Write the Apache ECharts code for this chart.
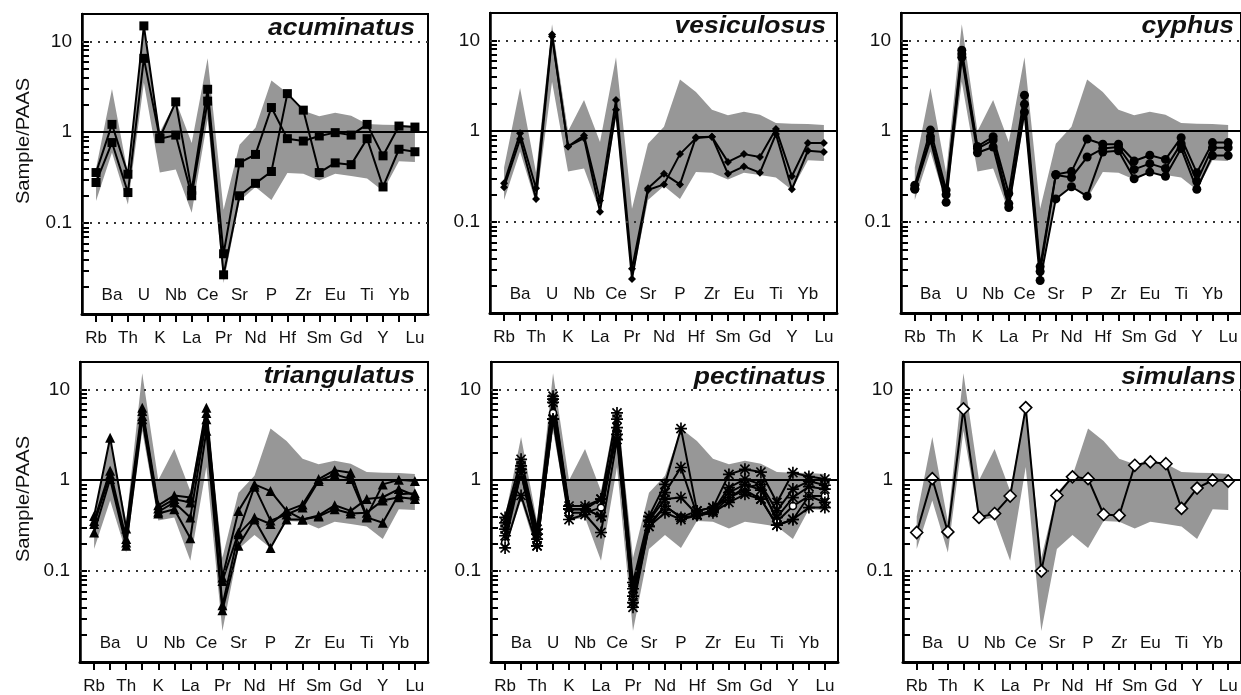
<!DOCTYPE html>
<html lang="en">
<head>
<meta charset="utf-8">
<title>Sample/PAAS</title>
<script src="https://cdn.jsdelivr.net/npm/echarts@6/dist/echarts.min.js"></script>
<style>
    html, body { margin: 0; padding: 0; background: #fff; }
    #main { width: 1241px; height: 695px; }
</style>
</head>
<body>
<div id="main"></div>
<script type="text/javascript">
    // element order along the x axis
    var elements = ['Rb', 'Ba', 'Th', 'U', 'K', 'Nb', 'La', 'Ce', 'Pr', 'Sr', 'Nd', 'P', 'Hf', 'Zr', 'Sm', 'Eu', 'Gd', 'Ti', 'Y', 'Yb', 'Lu'];

    // grey envelope (same in every panel)
    var bandHigh = [0.40, 3.0, 0.35, 15.0, 1.0, 2.2, 0.76, 6.5, 0.14, 0.73, 1.12, 3.7, 2.7, 1.72, 1.5, 1.64, 1.52, 1.23, 1.21, 1.2, 1.17];
    var bandLow = [0.175, 0.6, 0.16, 3.5, 0.36, 0.39, 0.13, 1.4, 0.022, 0.175, 0.25, 0.18, 0.355, 0.35, 0.295, 0.35, 0.33, 0.31, 0.225, 0.48, 0.47];

    var acuminatus = [
        [0.36, 1.22, 0.345, 14.8, 0.87, 2.16, 0.23, 2.97, 0.046, 0.46, 0.57, 1.87, 0.85, 0.80, 0.91, 0.99, 0.93, 1.22, 0.55, 1.17, 1.14],
        [0.28, 0.77, 0.217, 6.5, 0.85, 0.93, 0.20, 2.2, 0.027, 0.20, 0.274, 0.37, 2.66, 1.75, 0.36, 0.46, 0.44, 0.85, 0.25, 0.65, 0.61]
    ];
    var vesiculosus = [
        [0.268, 0.95, 0.236, 11.6, 0.68, 0.90, 0.173, 2.2, 0.0306, 0.236, 0.34, 0.26, 0.86, 0.87, 0.46, 0.56, 0.52, 1.06, 0.32, 0.74, 0.74],
        [0.242, 0.82, 0.18, 11.0, 0.68, 0.84, 0.13, 1.72, 0.0237, 0.226, 0.26, 0.56, 0.84, 0.87, 0.34, 0.41, 0.35, 0.93, 0.23, 0.61, 0.59]
    ];
    var cyphus = [
        [0.255, 1.03, 0.225, 7.8, 0.68, 0.87, 0.207, 2.49, 0.0324, 0.335, 0.36, 0.82, 0.72, 0.72, 0.47, 0.545, 0.49, 0.85, 0.35, 0.75, 0.75],
        [0.235, 0.87, 0.20, 7.1, 0.645, 0.80, 0.16, 1.98, 0.0286, 0.33, 0.31, 0.52, 0.645, 0.67, 0.38, 0.44, 0.39, 0.73, 0.28, 0.66, 0.66],
        [0.23, 0.80, 0.165, 6.5, 0.58, 0.67, 0.145, 1.63, 0.0228, 0.18, 0.245, 0.193, 0.59, 0.61, 0.30, 0.355, 0.32, 0.645, 0.23, 0.54, 0.54]
    ];
    var triangulatus = [
        [0.405, 2.94, 0.295, 6.28, 0.53, 0.68, 0.645, 6.28, 0.085, 0.46, 0.90, 0.76, 0.46, 0.54, 1.03, 1.29, 1.21, 0.40, 0.90, 1.01, 0.98],
        [0.357, 1.27, 0.225, 5.77, 0.49, 0.62, 0.57, 5.5, 0.078, 0.266, 0.85, 0.36, 0.42, 0.50, 0.98, 1.16, 1.03, 0.39, 0.34, 0.70, 0.72],
        [0.33, 1.16, 0.207, 5.1, 0.45, 0.57, 0.39, 4.7, 0.042, 0.255, 0.39, 0.33, 0.46, 0.37, 0.41, 0.53, 0.46, 0.62, 0.65, 0.80, 0.68],
        [0.266, 1.03, 0.19, 4.7, 0.43, 0.48, 0.23, 3.5, 0.037, 0.19, 0.37, 0.18, 0.37, 0.37, 0.40, 0.48, 0.43, 0.44, 0.60, 0.65, 0.62]
    ];
    var pectinatus = [
        [0.206, 1.21, 0.20, 5.5, 0.44, 0.44, 0.50, 3.2, 0.053, 0.33, 0.52, 0.39, 0.41, 0.44, 0.645, 0.83, 0.90, 0.35, 0.52, 0.67, 0.67],
        [0.39, 1.70, 0.29, 8.4, 0.52, 0.52, 0.62, 5.5, 0.075, 0.40, 0.90, 3.7, 0.46, 0.50, 1.16, 1.32, 1.23, 0.57, 1.21, 1.10, 1.03],
        [0.34, 1.44, 0.255, 7.8, 0.48, 0.48, 0.40, 4.7, 0.064, 0.36, 0.73, 1.38, 0.42, 0.46, 0.83, 1.03, 0.90, 0.46, 0.80, 0.98, 0.88],
        [0.29, 1.32, 0.225, 7.2, 0.48, 0.48, 0.40, 3.8, 0.053, 0.36, 0.62, 0.645, 0.42, 0.46, 0.73, 0.90, 0.78, 0.39, 0.645, 0.85, 0.80],
        [0.245, 1.21, 0.19, 4.7, 0.37, 0.42, 0.266, 2.8, 0.045, 0.31, 0.44, 0.37, 0.41, 0.44, 0.57, 0.70, 0.62, 0.32, 0.37, 0.67, 0.57],
        [0.18, 0.68, 0.19, 4.7, 0.48, 0.48, 0.62, 3.2, 0.04, 0.31, 0.52, 0.39, 0.46, 0.50, 0.645, 0.78, 0.62, 0.32, 0.37, 0.50, 0.50]
    ];
    var simulans = [
        [0.266, 1.04, 0.27, 6.1, 0.39, 0.43, 0.67, 6.3, 0.1, 0.68, 1.09, 1.04, 0.42, 0.41, 1.46, 1.59, 1.52, 0.49, 0.82, 1.0, 0.98]
    ];

    // y ticks: decades get labels, every 2..9 step gets a tick
    var majorY = [0.1, 1, 10];
    var tickY = [0.02, 0.03, 0.04, 0.05, 0.06, 0.07, 0.08, 0.09, 0.1,
        0.2, 0.3, 0.4, 0.5, 0.6, 0.7, 0.8, 0.9, 1,
        2, 3, 4, 5, 6, 7, 8, 9, 10];

    var FONT = '"Liberation Sans", Arial, sans-serif';
    var XMIN = -0.88, XMAX = 20.82;
    var ASTERISK = 'path://M0 4.3H10V5.7H0Z M4.3 0H5.7V10H4.3Z M1.7 0.7L9.3 8.3L8.3 9.3L0.7 1.7Z M0.7 8.3L8.3 0.7L9.3 1.7L1.7 9.3Z';

    // box = [left, top, width, height]; title = [right edge x, middle y]
    var panels = [
        {name: 'acuminatus', rows: acuminatus, symbol: 'rect', size: 9, box: [82, 14, 346, 300], title: [415, 29]},
        {name: 'vesiculosus', rows: vesiculosus, symbol: 'diamond', size: 8, box: [490, 13, 347, 300], title: [826, 27]},
        {name: 'cyphus', rows: cyphus, symbol: 'circle', size: 9, box: [901, 13, 347, 300], title: [1234, 27]},
        {name: 'triangulatus', rows: triangulatus, symbol: 'triangle', size: 10, box: [80, 362, 348, 301], title: [415, 377]},
        {name: 'pectinatus', rows: pectinatus, symbol: ASTERISK, size: 12, openFirst: true, box: [491, 362, 347, 301], title: [826, 378]},
        {name: 'simulans', rows: simulans, symbol: 'diamond', size: 12, open: true, box: [903, 362, 347, 301], title: [1236, 378]}
    ];

    var allIdx = [], evenIdx = [], oddIdx = [];
    for (var k = 0; k < elements.length; k++) {
        allIdx.push(k);
        (k % 2 === 0 ? evenIdx : oddIdx).push(k);
    }
    function elementName(v) {
        return elements[Math.round(v)] || '';
    }
    function yName(v) {
        return v >= 1 ? String(Math.round(v)) : v.toFixed(1);
    }

    var grids = [], xAxes = [], yAxes = [], series = [], graphics = [];

    panels.forEach(function (p, i) {
        grids.push({
            left: p.box[0], top: p.box[1], width: p.box[2], height: p.box[3],
            show: true, borderColor: '#000', borderWidth: 2, backgroundColor: 'transparent'
        });
        graphics.push({
            type: 'text', x: p.title[0], y: p.title[1], scaleX: 1.15, z: 10,
            style: {text: p.name, fontFamily: FONT, fontSize: 23, fontWeight: 'bold', fontStyle: 'italic',
                fill: '#111', align: 'right', verticalAlign: 'middle'}
        });
        // lower row of element labels + all ticks
        xAxes.push({
            type: 'value', gridIndex: i, position: 'bottom', min: XMIN, max: XMAX,
            splitLine: {show: false},
            axisLine: {onZero: false, lineStyle: {color: '#000', width: 3}},
            axisTick: {customValues: allIdx, length: 8, lineStyle: {color: '#000', width: 2}},
            axisLabel: {customValues: evenIdx, formatter: elementName, margin: 16, fontSize: 17, fontFamily: FONT, color: '#111'}
        });
        // upper row, inside the box
        xAxes.push({
            type: 'value', gridIndex: i, position: 'bottom', min: XMIN, max: XMAX,
            splitLine: {show: false}, axisLine: {show: false}, axisTick: {show: false},
            axisLabel: {inside: true, customValues: oddIdx, formatter: elementName, margin: 10, fontSize: 17, fontFamily: FONT, color: '#111'}
        });
        yAxes.push({
            type: 'log', gridIndex: i, position: 'left', min: 0.01, max: 20,
            splitLine: {show: false},
            axisLine: {onZero: false, lineStyle: {color: '#000', width: 2.5}},
            axisTick: {inside: true, customValues: tickY, length: 7, lineStyle: {color: '#000', width: 2}},
            axisLabel: {customValues: majorY, formatter: yName, margin: 10, fontSize: 19, fontFamily: FONT, color: '#111'}
        });

        // envelope
        series.push({
            type: 'custom', xAxisIndex: 2 * i, yAxisIndex: i, z: 1, silent: true,
            data: elements.map(function (e, j) { return [j, bandLow[j], bandHigh[j]]; }),
            encode: {x: 0, y: [1, 2]},
            renderItem: function (params, api) {
                if (params.dataIndex !== 0) return;
                var pts = [], j;
                for (j = 0; j < elements.length; j++) pts.push(api.coord([j, bandHigh[j]]));
                for (j = elements.length - 1; j >= 0; j--) pts.push(api.coord([j, bandLow[j]]));
                return {type: 'polygon', shape: {points: pts}, style: {fill: '#979797'}};
            }
        });

        p.rows.forEach(function (row, r) {
            var circle = p.openFirst && r === 0;
            var open = p.open || circle;
            var s = {
                type: 'line', xAxisIndex: 2 * i, yAxisIndex: i, z: 3,
                data: row.map(function (v, j) { return [j, v]; }),
                symbol: circle ? 'circle' : p.symbol,
                symbolSize: circle ? 7 : p.size,
                showAllSymbol: true,
                lineStyle: {color: '#000', width: 2},
                itemStyle: open ? {color: '#fff', borderColor: '#000', borderWidth: 1.6} : {color: '#000', borderWidth: 0}
            };
            if (r === 0) {
                s.markLine = {
                    silent: true, symbol: 'none', label: {show: false},
                    data: [
                        {yAxis: 1, lineStyle: {type: 'solid', width: 2, color: '#000'}},
                        {yAxis: 0.1, lineStyle: {type: [2, 6], width: 2, color: '#333'}},
                        {yAxis: 10, lineStyle: {type: [2, 6], width: 2, color: '#333'}}
                    ]
                };
            }
            series.push(s);
        });
    });

    // y axis names on the left column
    [141, 499].forEach(function (cy) {
        graphics.push({
            type: 'text', x: 24, y: cy, rotation: Math.PI / 2, scaleX: 1.12,
            style: {text: 'Sample/PAAS', fontSize: 18, fontFamily: FONT, fill: '#111', align: 'center', verticalAlign: 'middle'}
        });
    });

    var myChart = echarts.init(document.getElementById('main'));
    myChart.setOption({
        animation: false,
        backgroundColor: '#fff',
        grid: grids,
        xAxis: xAxes,
        yAxis: yAxes,
        series: series,
        graphic: graphics
    });
</script>
</body>
</html>
